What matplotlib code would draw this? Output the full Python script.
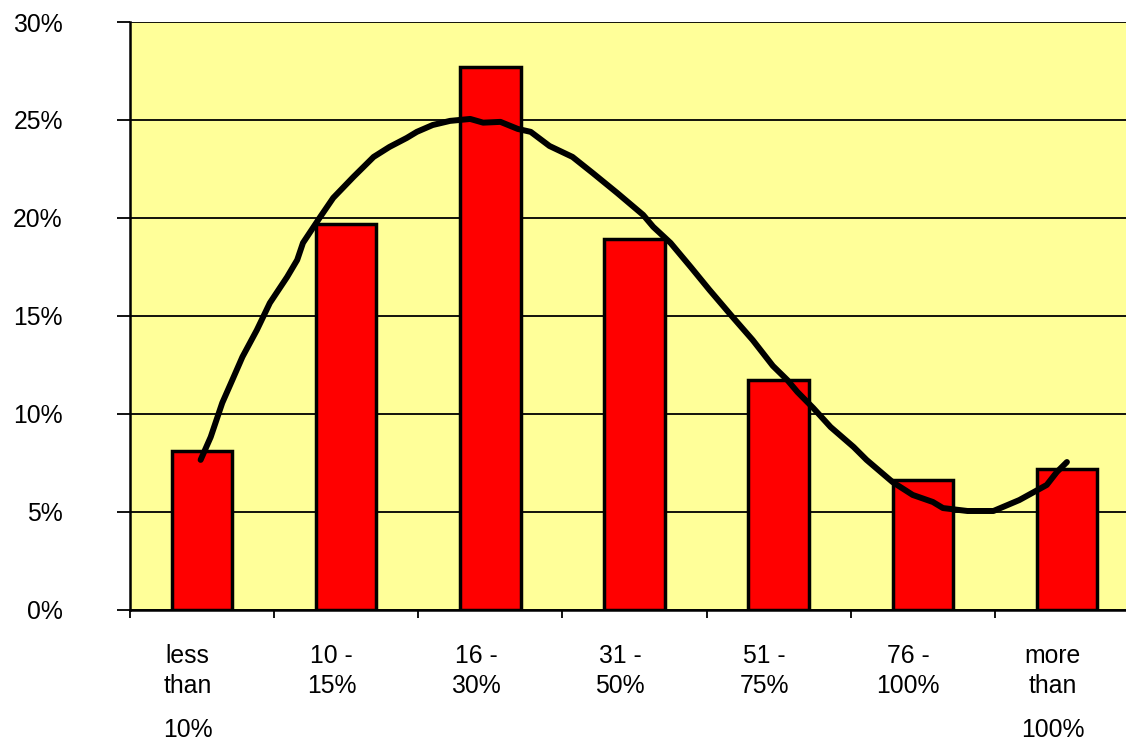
import matplotlib
matplotlib.use("Agg")
import matplotlib.pyplot as plt
from matplotlib.ticker import FixedLocator, PercentFormatter

plt.rcParams['font.family'] = ['Liberation Sans', 'DejaVu Sans']

# Share of respondents per price-increase band
categories = [
    ["less", "than", "10%"],
    ["10 -", "15%"],
    ["16 -", "30%"],
    ["31 -", "50%"],
    ["51 -", "75%"],
    ["76 -", "100%"],
    ["more", "than", "100%"],
]
shares = [8.1, 19.7, 27.7, 18.9, 11.7, 6.6, 7.2]

# Smoothed trend across the bands (x in category units)
trend_x = [-0.01, 0.06, 0.14, 0.21, 0.28, 0.38, 0.47, 0.59, 0.66, 0.70,
           0.82, 0.91, 1.05, 1.19, 1.30, 1.42, 1.49, 1.60, 1.72, 1.86,
           1.95, 2.07, 2.19, 2.28, 2.41, 2.57, 2.71, 2.88, 3.06, 3.13,
           3.25, 3.39, 3.52, 3.68, 3.82, 3.96, 4.06, 4.13, 4.24, 4.36,
           4.52, 4.61, 4.79, 4.93, 5.07, 5.14, 5.31, 5.49, 5.67, 5.86,
           5.93, 6.00]
trend_y = [7.64, 8.81, 10.55, 11.72, 12.90, 14.27, 15.65, 16.98, 17.85, 18.72,
           20.05, 21.02, 22.09, 23.11, 23.62, 24.08, 24.39, 24.74, 24.95, 25.05,
           24.86, 24.90, 24.54, 24.39, 23.67, 23.11, 22.29, 21.27, 20.15, 19.54,
           18.72, 17.49, 16.32, 14.94, 13.76, 12.44, 11.72, 11.11, 10.29, 9.32,
           8.30, 7.64, 6.51, 5.85, 5.49, 5.18, 5.03, 5.03, 5.59, 6.36,
           7.02, 7.53]

W, H = 1126, 743
fig = plt.figure(figsize=(W / 100, H / 100), dpi=100)
ax = fig.add_axes([130 / W, (H - 609.5) / H, (1139 - 130) / W, (609.5 - 22) / H])
ax.set_facecolor("#FFFF99")

x = list(range(len(shares)))
ax.bar(x, shares, width=0.42, color="#FF0000", edgecolor="black",
       linewidth=2.5, zorder=3)
ax.plot(trend_x, trend_y, color="black", linewidth=4.3,
        solid_capstyle="round", solid_joinstyle="round", zorder=4)

ax.set_xlim(-0.5, 6.5)
ax.set_ylim(0, 30)

ax.yaxis.set_major_locator(FixedLocator([0, 5, 10, 15, 20, 25, 30]))
ax.yaxis.set_major_formatter(PercentFormatter(decimals=0))
ax.grid(axis="y", color="black", linewidth=1.3, zorder=1)
ax.set_axisbelow(True)

ax.xaxis.set_major_locator(FixedLocator([i - 0.5 for i in range(7)]))
ax.set_xticklabels([])

for side in ("top", "right"):
    ax.spines[side].set_visible(False)
for side in ("left", "bottom"):
    ax.spines[side].set_linewidth(1.8)
    ax.spines[side].set_zorder(5)

ax.tick_params(axis="y", direction="out", length=9.4, width=1.3,
               pad=39, labelsize=17.8, colors="black")
ax.tick_params(axis="x", direction="out", length=5.8, width=1.3)

# Category labels, one text per wrapped line
baselines = [38.5, 60.1, 91.8]
for i, lines in enumerate(categories):
    rows = [0, 1] if len(lines) == 2 else [0, 1, 2]
    for r, txt in zip(rows, lines):
        ax.annotate(txt, xy=(i - 0.1, 0), xycoords=("data", "axes fraction"),
                    xytext=(0, -baselines[r]), textcoords="offset points",
                    ha="center", va="baseline", fontsize=17.8,
                    annotation_clip=False)

fig.savefig("out.png", dpi=100)
